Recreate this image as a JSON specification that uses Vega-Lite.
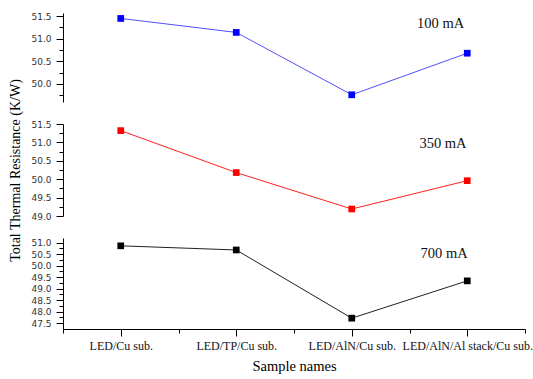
{
  "$schema": "https://vega.github.io/schema/vega-lite/v6.json",
  "padding": {"left": 8, "top": 12, "right": 0, "bottom": 4},
  "background": "white",
  "bounds": "flush",
  "spacing": 22,
  "config": {
    "view": {"stroke": null},
    "font": "Liberation Serif",
    "axis": {"labelFont": "Liberation Serif", "titleFont": "Liberation Serif", "titleFontWeight": "normal", "domainColor": "#000", "tickColor": "#000", "labelColor": "#222", "grid": false},
    "axisY": {"labelFont": "DejaVu Sans", "labelFontSize": 9, "labelColor": "#333", "labelPadding": 5, "tickCount": 40, "labelOverlap": false}
  },
  "datasets": {
    "pts": [
      {"current": "100 mA", "sample": "LED/Cu sub.", "pos": 1, "resistance": 51.45},
      {"current": "100 mA", "sample": "LED/TP/Cu sub.", "pos": 2, "resistance": 51.14},
      {"current": "100 mA", "sample": "LED/AlN/Cu sub.", "pos": 3, "resistance": 49.76},
      {"current": "100 mA", "sample": "LED/AlN/Al stack/Cu sub.", "pos": 4, "resistance": 50.68},
      {"current": "350 mA", "sample": "LED/Cu sub.", "pos": 1, "resistance": 51.32},
      {"current": "350 mA", "sample": "LED/TP/Cu sub.", "pos": 2, "resistance": 50.18},
      {"current": "350 mA", "sample": "LED/AlN/Cu sub.", "pos": 3, "resistance": 49.19},
      {"current": "350 mA", "sample": "LED/AlN/Al stack/Cu sub.", "pos": 4, "resistance": 49.96},
      {"current": "700 mA", "sample": "LED/Cu sub.", "pos": 1, "resistance": 50.86},
      {"current": "700 mA", "sample": "LED/TP/Cu sub.", "pos": 2, "resistance": 50.68},
      {"current": "700 mA", "sample": "LED/AlN/Cu sub.", "pos": 3, "resistance": 47.72},
      {"current": "700 mA", "sample": "LED/AlN/Al stack/Cu sub.", "pos": 4, "resistance": 49.34}
    ],
    "labels": [
      {"current": "100 mA", "pos": 3.77, "resistance": 51.33},
      {"current": "350 mA", "pos": 3.79, "resistance": 50.96},
      {"current": "700 mA", "pos": 3.8, "resistance": 50.51}
    ]
  },
  "vconcat": [
    {
      "width": 462, "height": 89,
      "layer": [
        {"data": {"name": "pts"}, "transform": [{"filter": "datum.current === '100 mA'"}],
         "mark": {"type": "line", "color": "#5050ff", "strokeWidth": 1},
         "encoding": {
           "x": {"field": "pos", "type": "quantitative", "scale": {"domain": [0.5, 4.5], "nice": false, "zero": false}, "axis": null},
           "y": {"field": "resistance", "type": "quantitative", "scale": {"domain": [49.6, 51.57], "nice": false, "zero": false},
             "axis": {"title": null, "tickCount": 40, "values": [49.75, 50, 50.25, 50.5, 50.75, 51, 51.25, 51.5], "labelExpr": "abs(datum.value*2 - round(datum.value*2)) < 0.001 ? format(datum.value, '.1f') : ''", "labelOverlap": false, "tickSize": {"condition": {"test": "abs(datum.value*2 - round(datum.value*2)) < 0.001", "value": 7}, "value": 4}}}
         }},
        {"data": {"name": "pts"}, "transform": [{"filter": "datum.current === '100 mA'"}],
         "mark": {"type": "point", "shape": "square", "filled": true, "color": "#0000ff", "size": 45, "opacity": 1},
         "encoding": {"x": {"field": "pos", "type": "quantitative"}, "y": {"field": "resistance", "type": "quantitative"}}},
        {"data": {"name": "labels"}, "transform": [{"filter": "datum.current === '100 mA'"}],
         "mark": {"type": "text", "fontSize": 14.5, "font": "Liberation Serif", "color": "#111"},
         "encoding": {"x": {"field": "pos", "type": "quantitative"}, "y": {"field": "resistance", "type": "quantitative"}, "text": {"field": "current"}}}
      ]
    },
    {
      "width": 462, "height": 92,
      "layer": [
        {"data": {"name": "pts"}, "transform": [{"filter": "datum.current === '350 mA'"}],
         "mark": {"type": "line", "color": "#ff2020", "strokeWidth": 1},
         "encoding": {
           "x": {"field": "pos", "type": "quantitative", "scale": {"domain": [0.5, 4.5], "nice": false, "zero": false}, "axis": null},
           "y": {"field": "resistance", "type": "quantitative", "scale": {"domain": [49.0, 51.5], "nice": false, "zero": false},
             "axis": {"title": "Total Thermal Resistance (K/W)", "titleFontSize": 14, "titlePadding": 8, "tickCount": 40, "values": [49, 49.25, 49.5, 49.75, 50, 50.25, 50.5, 50.75, 51, 51.25, 51.5], "labelExpr": "abs(datum.value*2 - round(datum.value*2)) < 0.001 ? format(datum.value, '.1f') : ''", "labelOverlap": false, "tickSize": {"condition": {"test": "abs(datum.value*2 - round(datum.value*2)) < 0.001", "value": 7}, "value": 4}}}
         }},
        {"data": {"name": "pts"}, "transform": [{"filter": "datum.current === '350 mA'"}],
         "mark": {"type": "point", "shape": "square", "filled": true, "color": "#ff0000", "size": 45, "opacity": 1},
         "encoding": {"x": {"field": "pos", "type": "quantitative"}, "y": {"field": "resistance", "type": "quantitative"}}},
        {"data": {"name": "labels"}, "transform": [{"filter": "datum.current === '350 mA'"}],
         "mark": {"type": "text", "fontSize": 14.5, "font": "Liberation Serif", "color": "#111"},
         "encoding": {"x": {"field": "pos", "type": "quantitative"}, "y": {"field": "resistance", "type": "quantitative"}, "text": {"field": "current"}}}
      ]
    },
    {
      "width": 462, "height": 91,
      "layer": [
        {"data": {"name": "pts"}, "transform": [{"filter": "datum.current === '700 mA'"}],
         "mark": {"type": "line", "color": "#202020", "strokeWidth": 1},
         "encoding": {
           "x": {"field": "pos", "type": "quantitative", "scale": {"domain": [0.5, 4.5], "nice": false, "zero": false},
             "axis": {"title": "Sample names", "titleFontSize": 14.5, "titlePadding": 8, "tickCount": 20, "values": [0.5, 1, 1.5, 2, 2.5, 3, 3.5, 4, 4.5], "labelExpr": "datum.value === 1 ? 'LED/Cu sub.' : datum.value === 2 ? 'LED/TP/Cu sub.' : datum.value === 3 ? 'LED/AlN/Cu sub.' : datum.value === 4 ? 'LED/AlN/Al stack/Cu sub.' : ''", "labelOverlap": false, "labelBound": false, "labelFlush": false, "labelFontSize": 12, "labelColor": "#111", "labelPadding": 4, "tickSize": {"condition": {"test": "datum.value === round(datum.value)", "value": 7}, "value": 4}}},
           "y": {"field": "resistance", "type": "quantitative", "scale": {"domain": [47.25, 51.2], "nice": false, "zero": false},
             "axis": {"title": null, "tickCount": 40, "values": [47.5, 47.75, 48, 48.25, 48.5, 48.75, 49, 49.25, 49.5, 49.75, 50, 50.25, 50.5, 50.75, 51], "labelExpr": "abs(datum.value*2 - round(datum.value*2)) < 0.001 ? format(datum.value, '.1f') : ''", "labelOverlap": false, "tickSize": {"condition": {"test": "abs(datum.value*2 - round(datum.value*2)) < 0.001", "value": 7}, "value": 4}}}
         }},
        {"data": {"name": "pts"}, "transform": [{"filter": "datum.current === '700 mA'"}],
         "mark": {"type": "point", "shape": "square", "filled": true, "color": "#000000", "size": 45, "opacity": 1},
         "encoding": {"x": {"field": "pos", "type": "quantitative"}, "y": {"field": "resistance", "type": "quantitative"}}},
        {"data": {"name": "labels"}, "transform": [{"filter": "datum.current === '700 mA'"}],
         "mark": {"type": "text", "fontSize": 14.5, "font": "Liberation Serif", "color": "#111"},
         "encoding": {"x": {"field": "pos", "type": "quantitative"}, "y": {"field": "resistance", "type": "quantitative"}, "text": {"field": "current"}}}
      ]
    }
  ]
}
